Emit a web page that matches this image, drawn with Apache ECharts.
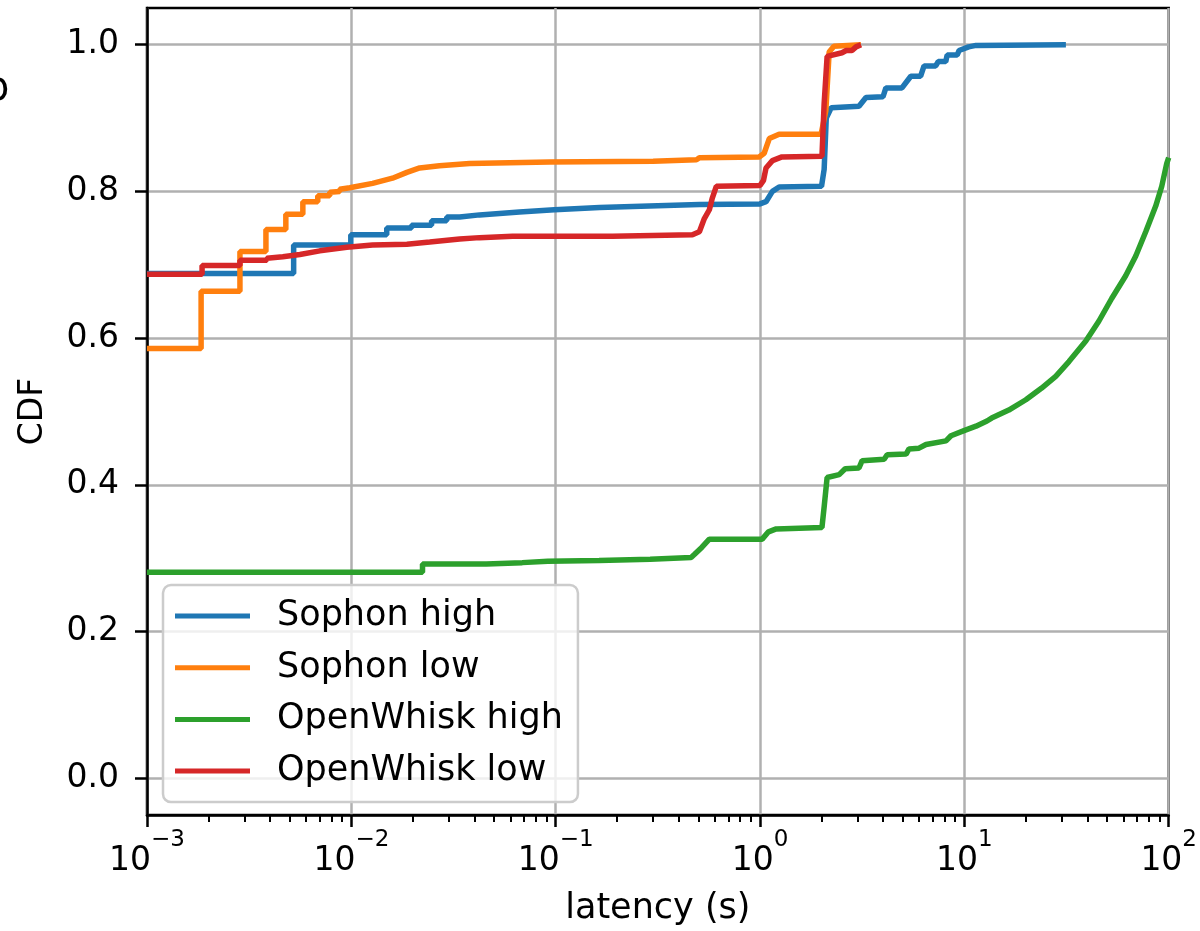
<!DOCTYPE html>
<html>
<head>
<meta charset="utf-8">
<script src="https://cdn.jsdelivr.net/npm/echarts@6/dist/echarts.min.js"></script>
<style>
  html, body { margin: 0; padding: 0; background: #fff; }
  #main { width: 1200px; height: 931px; }
</style>
</head>
<body>
<div id="main"></div>
<script>
// 数据区 —— CDF 拐点 [latency(s), CDF]
var sophonHigh = [
    [0.001, 0.688], [0.00522, 0.688], [0.00522, 0.727], [0.00994, 0.727], [0.00994, 0.741],
    [0.0149, 0.741], [0.0149, 0.750], [0.0197, 0.750], [0.0197, 0.754], [0.0247, 0.754],
    [0.0247, 0.760], [0.0293, 0.760], [0.0293, 0.765], [0.0339, 0.765], [0.0424, 0.768],
    [0.0665, 0.772], [0.0986, 0.775], [0.164, 0.778], [0.287, 0.780], [0.505, 0.782],
    [1.0, 0.783], [1.07, 0.786], [1.15, 0.800], [1.24, 0.806], [2.0, 0.807], [2.06, 0.83],
    [2.11, 0.90], [2.23, 0.914], [3.05, 0.916], [3.3, 0.928], [4.0, 0.929], [4.13, 0.941],
    [4.95, 0.941], [5.47, 0.957], [6.11, 0.957], [6.35, 0.971], [7.24, 0.971], [7.45, 0.977],
    [8.11, 0.977], [8.24, 0.986], [9.23, 0.986], [9.42, 0.992], [10.5, 0.997], [11.4, 0.999],
    [31.4, 1.0]
];
var sophonLow = [
    [0.001, 0.586], [0.00184, 0.586], [0.00184, 0.664], [0.00285, 0.664], [0.00285, 0.718],
    [0.00382, 0.718], [0.00382, 0.748], [0.00478, 0.748], [0.00478, 0.769], [0.00579, 0.769],
    [0.00579, 0.786], [0.00685, 0.786], [0.00685, 0.794], [0.00784, 0.794], [0.00784, 0.799],
    [0.00877, 0.800], [0.00877, 0.803], [0.00982, 0.805], [0.0127, 0.811], [0.0159, 0.818],
    [0.0187, 0.826], [0.0216, 0.832], [0.027, 0.835], [0.0379, 0.838], [0.0933, 0.840],
    [0.3, 0.841], [0.488, 0.843], [0.505, 0.846], [0.991, 0.847], [1.048, 0.852], [1.11, 0.872],
    [1.24, 0.878], [1.99, 0.878], [2.1, 0.91], [2.18, 0.99], [2.3, 0.998], [3.12, 1.0]
];
var openwhiskHigh = [
    [0.001, 0.281], [0.0223, 0.281], [0.0223, 0.292], [0.0458, 0.292], [0.0458, 0.294],
    [0.0686, 0.294], [0.0915, 0.296], [0.163, 0.297], [0.29, 0.2985], [0.46, 0.301],
    [0.477, 0.305], [0.52, 0.315], [0.565, 0.326], [1.025, 0.326], [1.1, 0.336], [1.2, 0.340],
    [2.01, 0.342], [2.06, 0.37], [2.13, 0.410], [2.44, 0.414], [2.61, 0.422], [3.05, 0.423],
    [3.16, 0.433], [4.05, 0.435], [4.19, 0.441], [5.19, 0.442], [5.36, 0.449], [6.0, 0.450],
    [6.49, 0.455], [8.13, 0.460], [8.6, 0.467], [9.96, 0.474], [11.4, 0.480], [12.9, 0.487],
    [13.6, 0.491], [16.5, 0.502], [20, 0.516], [23.9, 0.532], [28, 0.548], [32.5, 0.568],
    [39.3, 0.596], [45.5, 0.623], [52.6, 0.654], [61.6, 0.685], [69, 0.712], [77.2, 0.745],
    [86.4, 0.780], [92.5, 0.807], [97.8, 0.838], [100, 0.846]
];
var openwhiskLow = [
    [0.001, 0.687], [0.00186, 0.687], [0.00186, 0.699], [0.00285, 0.699], [0.00285, 0.706],
    [0.00386, 0.706], [0.00386, 0.709], [0.00462, 0.711], [0.0056, 0.714], [0.00701, 0.719],
    [0.0095, 0.724], [0.0127, 0.727], [0.0187, 0.728], [0.0242, 0.731], [0.0339, 0.735],
    [0.0424, 0.737], [0.0615, 0.739], [0.19, 0.739], [0.467, 0.741], [0.505, 0.745],
    [0.534, 0.763], [0.565, 0.775], [0.583, 0.790], [0.611, 0.807], [1.0, 0.808], [1.04, 0.815],
    [1.07, 0.832], [1.15, 0.842], [1.28, 0.847], [2.01, 0.848], [2.06, 0.92], [2.13, 0.984],
    [2.52, 0.989], [2.64, 0.992], [2.82, 0.992], [2.95, 0.997], [3.12, 1.0]
];
var seriesNames = ['Sophon high', 'Sophon low', 'OpenWhisk high', 'OpenWhisk low'];
var seriesColors = ['#1f77b4', '#ff7f0e', '#2ca02c', '#d62728'];
var yTicks = [0, 0.2, 0.4, 0.6, 0.8, 1.0];
var xMajorTicks = [0.001, 0.01, 0.1, 1, 10, 100];

// 对数轴次刻度 2..9 × 10^n
var xMinorTicks = [];
for (var p = -3; p < 2; p++) {
    for (var m = 2; m < 10; m++) {
        xMinorTicks.push(m * Math.pow(10, p));
    }
}

var FONT = 'DejaVu Sans';

var myChart = echarts.init(document.getElementById('main'));

function makeSeries(name, data, color) {
    return {
        name: name,
        type: 'line',
        data: data,
        color: color,
        showSymbol: false,
        symbol: 'none',
        lineStyle: { width: 5.5, color: color },
        animation: false
    };
}

myChart.setOption({
    animation: false,
    textStyle: { fontFamily: FONT },
    grid: {
        left: 147,
        right: 30,
        top: 8,
        bottom: 112,
        show: true,
        borderColor: '#000',
        borderWidth: 2.5,
        backgroundColor: 'transparent'
    },
    legend: {
        orient: 'vertical',
        left: 163,
        top: 585,
        data: seriesNames,
        icon: 'rect',
        itemWidth: 75,
        itemHeight: 5,
        itemGap: 11.7,
        padding: [11, 15, 11, 12],
        backgroundColor: 'rgba(255,255,255,0.8)',
        borderColor: '#cccccc',
        borderWidth: 2.5,
        borderRadius: 8,
        textStyle: {
            fontFamily: FONT,
            fontSize: 35,
            color: '#000',
            lineHeight: 40,
            padding: [0, 0, 0, 22]
        }
    },
    xAxis: [{
        type: 'log',
        logBase: 10,
        min: 0.001,
        max: 100,
        position: 'bottom',
        name: 'latency (s)',
        nameLocation: 'middle',
        nameGap: 76,
        nameTextStyle: { fontFamily: FONT, fontSize: 35, color: '#000' },
        axisLine: { show: true, onZero: false, lineStyle: { color: '#000', width: 2.5 } },
        axisTick: { show: true, length: 12, lineStyle: { color: '#000', width: 2.5 }, customValues: xMajorTicks },
        axisLabel: {
            margin: 14,
            customValues: xMajorTicks,
            formatter: function (v) {
                var e = Math.round(Math.log10(v));
                var s = String(e).replace('-', '\u2212');
                return '{b|10}{s|' + s + '}';
            },
            rich: {
                b: { fontFamily: FONT, fontSize: 33, color: '#000', verticalAlign: 'bottom' },
                s: { fontFamily: FONT, fontSize: 23, color: '#000', verticalAlign: 'bottom', padding: [0, 0, 26, 0] }
            }
        },
        splitLine: { show: true, lineStyle: { color: '#b0b0b0', width: 2.5 } }
    }, {
        type: 'log',
        logBase: 10,
        min: 0.001,
        max: 100,
        position: 'bottom',
        axisLine: { show: false, onZero: false },
        axisLabel: { show: false },
        splitLine: { show: false },
        axisTick: { show: true, length: 7, lineStyle: { color: '#000', width: 2 }, customValues: xMinorTicks }
    }],
    yAxis: {
        type: 'value',
        min: -0.05,
        max: 1.05,
        name: 'CDF',
        nameLocation: 'middle',
        nameGap: 97,
        nameTextStyle: { fontFamily: FONT, fontSize: 33, color: '#000' },
        axisLine: { show: true, onZero: false, lineStyle: { color: '#000', width: 2.5 } },
        axisTick: { show: true, length: 12, lineStyle: { color: '#000', width: 2.5 }, customValues: yTicks },
        axisLabel: {
            margin: 28,
            customValues: yTicks,
            fontFamily: FONT,
            fontSize: 33,
            color: '#000',
            formatter: function (v) { return v.toFixed(1); }
        },
        splitLine: { show: true, lineStyle: { color: '#b0b0b0', width: 2.5 } }
    },
    graphic: [{
        type: 'text',
        x: -16,
        y: 70,
        style: { text: 'b', font: '40px "DejaVu Sans"', fill: '#000' }
    }],
    series: [
        makeSeries(seriesNames[0], sophonHigh, seriesColors[0]),
        makeSeries(seriesNames[1], sophonLow, seriesColors[1]),
        makeSeries(seriesNames[2], openwhiskHigh, seriesColors[2]),
        makeSeries(seriesNames[3], openwhiskLow, seriesColors[3])
    ]
});
</script>
</body>
</html>
